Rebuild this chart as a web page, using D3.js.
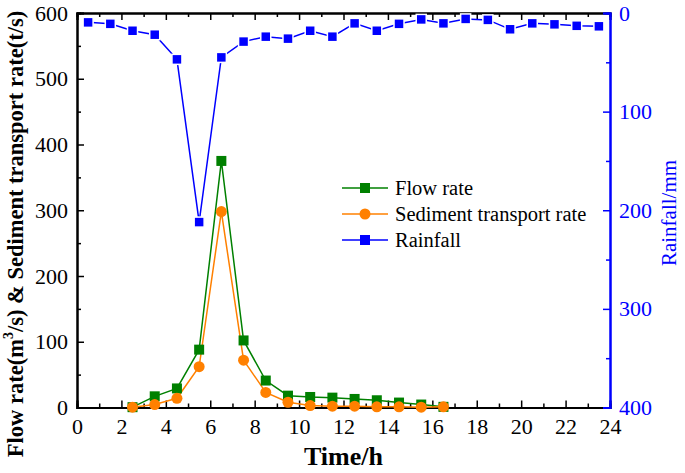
<!DOCTYPE html>
<html>
<head>
<meta charset="utf-8">
<script src="https://cdn.jsdelivr.net/npm/d3@7"></script>
<style>
  body { margin: 0; background: #fff; }
</style>
</head>
<body>
<script>
// hourly values, plotted at the middle of each hour
var hours = [0.5,1.5,2.5,3.5,4.5,5.5,6.5,7.5,8.5,9.5,10.5,11.5,12.5,13.5,14.5,15.5,16.5,17.5,18.5,19.5,20.5,21.5,22.5,23.5];
var rainfall = [9.5,11,18,22,47,212,45,29,24,26,18,24,10.5,18,11,6.5,10.5,6,7,16.5,10.5,11.5,13,13.5];

var flowHours = [2.5,3.5,4.5,5.5,6.5,7.5,8.5,9.5,10.5,11.5,12.5,13.5,14.5,15.5,16.5];
var flowRate = [0.5,17,29,88,375,102,41,18,16,15,13,11,7.5,4.5,1];
var sediment = [0.5,4.5,14,62,298,72,23,8,3,2,2,1,1,0.5,1];

var width = 685, height = 473;
var margin = {top: 13, right: 75, bottom: 65.5, left: 77};
var w = width - margin.left - margin.right,
    h = height - margin.top - margin.bottom;
var font = "Liberation Serif";

var svg = d3.select("body").append("svg")
    .attr("width", width)
    .attr("height", height)
    .attr("font-family", font);

var g = svg.append("g")
    .attr("transform", "translate(" + margin.left + "," + margin.top + ")");

var x = d3.scaleLinear().domain([0, 24]).range([0, w]);
var y = d3.scaleLinear().domain([0, 600]).range([h, 0]);
var yr = d3.scaleLinear().domain([0, 400]).range([0, h]);

// axes with inward ticks
function minorTicks(axis, vals) {
  return axis.tickValues(vals).tickSize(-4).tickFormat("");
}

// bottom
g.append("g").attr("class", "ax")
    .attr("transform", "translate(0," + h + ")")
    .call(minorTicks(d3.axisBottom(x), d3.range(1, 24, 2)));
g.append("g").attr("class", "ax")
    .attr("transform", "translate(0," + h + ")")
    .call(d3.axisBottom(x).tickValues(d3.range(0, 25, 2)).tickSize(-7).tickPadding(11));

// top
g.append("g").attr("class", "ax")
    .call(minorTicks(d3.axisTop(x), d3.range(1, 24, 2)));
g.append("g").attr("class", "ax")
    .call(d3.axisTop(x).tickValues(d3.range(0, 25, 2)).tickSize(-7).tickFormat(""));

// left
g.append("g").attr("class", "ax")
    .call(minorTicks(d3.axisLeft(y), d3.range(50, 600, 100)));
g.append("g").attr("class", "ax")
    .call(d3.axisLeft(y).tickValues(d3.range(0, 601, 100)).tickSize(-7).tickPadding(9));

// right, rainfall
g.append("g").attr("class", "ax rain")
    .attr("transform", "translate(" + w + ",0)")
    .call(minorTicks(d3.axisRight(yr), d3.range(50, 400, 100)));
g.append("g").attr("class", "ax rain")
    .attr("transform", "translate(" + w + ",0)")
    .call(d3.axisRight(yr).tickValues(d3.range(0, 401, 100)).tickSize(-7).tickPadding(9));

g.selectAll(".ax").attr("font-family", font);
g.selectAll(".ax path").attr("stroke", "#000").attr("stroke-width", 2);
g.selectAll(".ax line").attr("stroke", "#000").attr("stroke-width", 1.5);
g.selectAll(".ax text").attr("font-size", 22).attr("fill", "#000");
g.selectAll(".rain path, .rain line").attr("stroke", "#0000ff");
g.selectAll(".rain text").attr("fill", "#0000ff");

// lines
var flowLine = d3.line().x(function(d, i) { return x(flowHours[i]); }).y(function(d) { return y(d); });
var rainLine = d3.line().x(function(d, i) { return x(hours[i]); }).y(function(d) { return yr(d); });

g.append("path").datum(flowRate)
    .attr("fill", "none").attr("stroke", "#008000").attr("stroke-width", 1.5)
    .attr("d", flowLine);
g.append("path").datum(sediment)
    .attr("fill", "none").attr("stroke", "#ff8000").attr("stroke-width", 1.5)
    .attr("d", flowLine);
g.append("path").datum(rainfall)
    .attr("fill", "none").attr("stroke", "#0000ff").attr("stroke-width", 1.5)
    .attr("d", rainLine);

var sq = 10;
g.selectAll(".flow").data(flowRate).enter().append("rect")
    .attr("x", function(d, i) { return x(flowHours[i]) - sq / 2; })
    .attr("y", function(d) { return y(d) - sq / 2; })
    .attr("width", sq).attr("height", sq)
    .attr("fill", "#008000");
g.selectAll(".sed").data(sediment).enter().append("circle")
    .attr("cx", function(d, i) { return x(flowHours[i]); })
    .attr("cy", function(d) { return y(d); })
    .attr("r", 5.5)
    .attr("fill", "#ff8000");
g.selectAll(".rainpt").data(rainfall).enter().append("rect")
    .attr("x", function(d, i) { return x(hours[i]) - sq / 2; })
    .attr("y", function(d) { return yr(d) - sq / 2; })
    .attr("width", sq).attr("height", sq)
    .attr("fill", "#0000ff")
    .attr("stroke", "#fff").attr("stroke-width", 1.5);

// legend
var legend = [
  {name: "Flow rate", color: "#008000", shape: "square"},
  {name: "Sediment transport rate", color: "#ff8000", shape: "circle"},
  {name: "Rainfall", color: "#0000ff", shape: "square"}
];
var lg = svg.append("g").attr("transform", "translate(342,188)");
legend.forEach(function(d, i) {
  var row = lg.append("g").attr("transform", "translate(0," + (i * 26) + ")");
  row.append("line").attr("x1", 0).attr("x2", 46).attr("stroke", d.color).attr("stroke-width", 1.5);
  if (d.shape == "square") {
    row.append("rect").attr("x", 18).attr("y", -5).attr("width", 10).attr("height", 10).attr("fill", d.color);
  } else {
    row.append("circle").attr("cx", 23).attr("r", 5.5).attr("fill", d.color);
  }
  row.append("text").attr("x", 53).attr("dy", "0.35em")
      .attr("font-size", 20.5).text(d.name);
});

// axis titles
svg.append("text")
    .attr("x", margin.left + x(12)).attr("y", 465)
    .attr("text-anchor", "middle")
    .attr("font-size", 26).attr("font-weight", "bold")
    .text("Time/h");

var yt = svg.append("text")
    .attr("transform", "translate(23,234) rotate(-90)")
    .attr("text-anchor", "middle")
    .attr("font-size", 22.5).attr("font-weight", "bold");
yt.append("tspan").text("Flow rate(m");
yt.append("tspan").attr("font-size", 14).attr("dy", "-0.7em").text("3");
yt.append("tspan").attr("dy", "0.45em").text("/s) & Sediment transport rate(t/s)");

svg.append("text")
    .attr("transform", "translate(676,213) rotate(-90)")
    .attr("text-anchor", "middle")
    .attr("font-size", 21).attr("fill", "#0000ff")
    .text("Rainfall/mm");
</script>
</body>
</html>
